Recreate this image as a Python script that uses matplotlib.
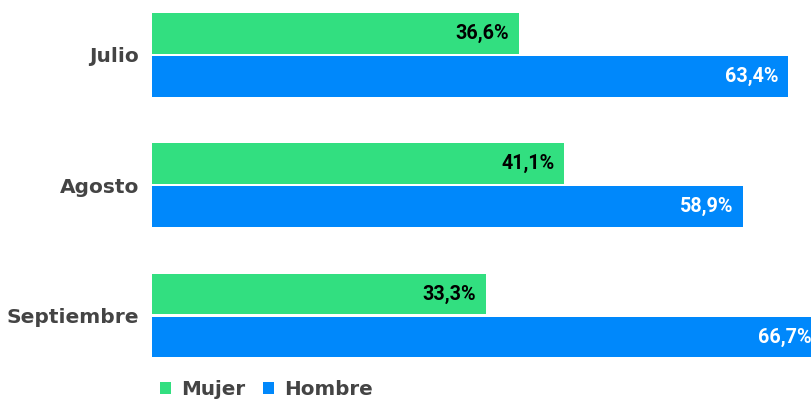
import matplotlib
matplotlib.use("Agg")
import matplotlib.pyplot as plt
import numpy as np

months = ["Julio", "Agosto", "Septiembre"]
mujer = [36.6, 41.1, 33.3]
hombre = [63.4, 58.9, 66.7]
series = ["Mujer", "Hombre"]

GREEN = "#32df80"
BLUE = "#0088fb"
LABEL = "#444444"

plt.rcParams["font.family"] = ["Roboto", "DejaVu Sans"]

fig = plt.figure(figsize=(8.12, 4.0), dpi=100)
ax = fig.add_axes([152 / 812, 30 / 400, 1 - 152 / 812, 370 / 400])

y = np.arange(len(months))
h = 0.314
off = 0.165
bm = ax.barh(y - off, mujer, height=h, color=GREEN, label=series[0])
bh = ax.barh(y + off, hombre, height=h, color=BLUE, label=series[1])

fmt = lambda v: f"{v:.1f}%".replace(".", ",")
for bars, vals, col in ((bm, mujer, "black"), (bh, hombre, "white")):
    for rect, v in zip(bars, vals):
        ax.annotate(fmt(v), (v, rect.get_y() + rect.get_height() / 2),
                    xytext=(-7, 0), textcoords="offset points",
                    ha="right", va="center", fontsize=14.2, fontweight="bold",
                    color=col, annotation_clip=False, clip_on=True)

ax.set_xlim(0, 65.8)
ax.set_ylim(2.418, -0.421)
ax.set_yticks(y)
ax.set_yticklabels(months, fontsize=14.5, fontweight="bold", color=LABEL,
                   family="DejaVu Sans")
ax.tick_params(axis="y", length=0, pad=9.5)
ax.set_xticks([])
for s in ax.spines.values():
    s.set_visible(False)

fig.legend(handles=[bm, bh], labels=series, loc="lower left",
           bbox_to_anchor=(152 / 812, -0.017), ncol=2, frameon=False,
           handlelength=0.55, handleheight=0.55, handletextpad=0.5,
           columnspacing=0.9, borderaxespad=0,
           prop={"size": 14.3, "weight": "bold", "family": "DejaVu Sans"},
           labelcolor=LABEL)

fig.savefig("out.png", dpi=100)
